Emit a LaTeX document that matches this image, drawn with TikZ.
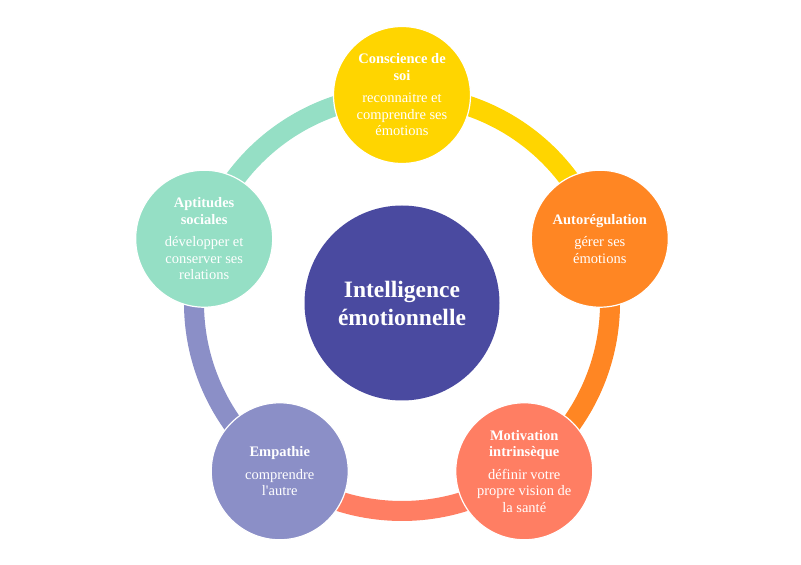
\documentclass[tikz,border=0pt]{standalone}
\usepackage{fontspec}
\setmainfont{Liberation Serif}
\usetikzlibrary{calc,backgrounds}
\definecolor{cgold}{HTML}{FFD500}
\definecolor{corange}{HTML}{FF8623}
\definecolor{csalmon}{HTML}{FF7E63}
\definecolor{clav}{HTML}{8B8FC7}
\definecolor{cmint}{HTML}{95DFC5}
\definecolor{cnavy}{HTML}{4A4AA0}
\begin{document}
\begin{tikzpicture}[x=1pt,y=1pt,
  outer/.style={circle, minimum size=137pt, inner sep=0pt, draw=white, line width=1.2pt},
  ringseg/.style={line width=20pt},
  txt/.style={text=white, align=center, inner sep=0pt, font=\fontsize{14.5}{16.5}\selectfont}]
\useasboundingbox (0,0) rectangle (801,565);
\coordinate (O) at (402,262);
\node[circle, fill=cnavy, minimum size=195pt, inner sep=0pt] (c) at (O) {};
\node[text=white, align=center, inner sep=0pt, font=\bfseries\fontsize{23.5}{28}\selectfont] (ct) at (c) {Intelligence\\émotionnelle};
\node[outer, fill=cgold] (s1) at ($(O)+(90:208)$) {};
\node[outer, fill=corange] (s2) at ($(O)+(18:208)$) {};
\node[outer, fill=csalmon] (s3) at ($(O)+(-54:208)$) {};
\node[outer, fill=clav] (s4) at ($(O)+(-126:208)$) {};
\node[outer, fill=cmint] (s5) at ($(O)+(162:208)$) {};
\begin{scope}[on background layer]
  \draw[ringseg, cgold] (s1.center) arc[start angle=90, end angle=18, radius=208];
  \draw[ringseg, corange] (s2.center) arc[start angle=18, end angle=-54, radius=208];
  \draw[ringseg, csalmon] (s3.center) arc[start angle=-54, end angle=-126, radius=208];
  \draw[ringseg, clav] (s4.center) arc[start angle=-126, end angle=-198, radius=208];
  \draw[ringseg, cmint] (s5.center) arc[start angle=162, end angle=90, radius=208];
\end{scope}
\node[txt] (t1) at (s1) {\textbf{Conscience de}\\\textbf{soi}\\[6pt]reconnaitre et\\comprendre ses\\émotions};
\node[txt] (t2) at (s2) {\textbf{Autorégulation}\\[6pt]gérer ses\\émotions};
\node[txt] (t3) at (s3) {\textbf{Motivation}\\\textbf{intrinsèque}\\[6pt]définir votre\\propre vision de\\la santé};
\node[txt] (t4) at (s4) {\textbf{Empathie}\\[6pt]comprendre\\l\textquotesingle autre};
\node[txt] (t5) at (s5) {\textbf{Aptitudes}\\\textbf{sociales}\\[6pt]développer et\\conserver ses\\relations};
\end{tikzpicture}
\end{document}
